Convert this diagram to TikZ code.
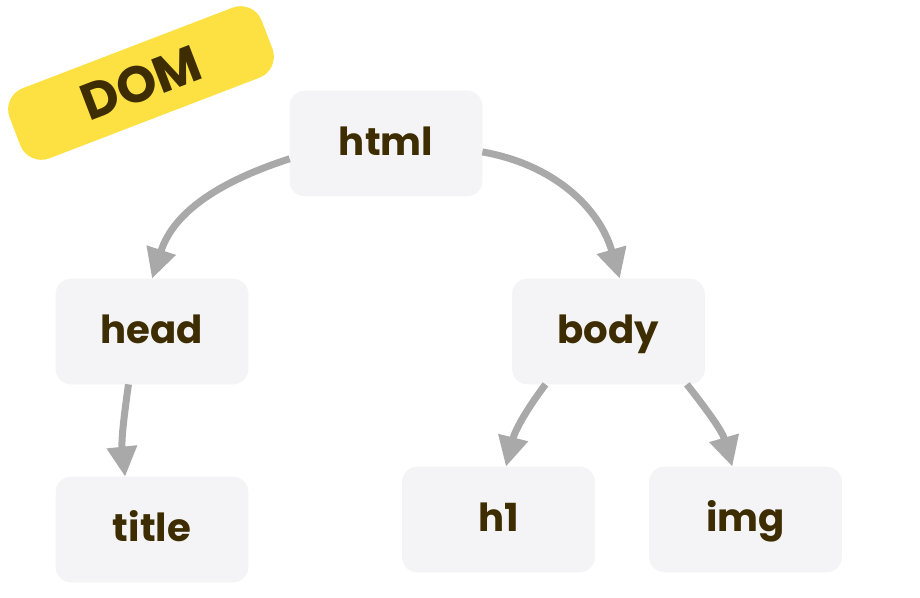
\documentclass[tikz,border=0pt]{standalone}
\usepackage{fontspec}
\setmainfont{Poppins}
\usepackage{tikz}
\usetikzlibrary{shapes,arrows.meta}
\definecolor{boxgray}{HTML}{F4F4F6}
\definecolor{inkbrown}{HTML}{3D2D00}
\definecolor{arrowgray}{HTML}{A9A9A9}
\definecolor{tagyellow}{HTML}{FDE143}
\tikzstyle{tag} = [draw, fill=boxgray, draw=boxgray, text=inkbrown, rounded corners=0.3cm,
    minimum width=3.84cm, minimum height=2.1cm, inner sep=0pt, text height=1.32em, text depth=0pt,
    font=\bfseries\fontsize{22}{24}\selectfont]
\tikzstyle{badge} = [fill=tagyellow, text=inkbrown, rounded corners=0.45cm,
    minimum width=5.4cm, minimum height=1.5cm, inner sep=0pt,
    font=\bfseries\fontsize{29}{32}\selectfont]
\tikzset{
  line/.style ={draw=arrowgray, line width=0.14cm, -{Triangle[length=0.6cm,width=0.58cm]}, shorten >=0pt}
}
\begin{document}
\begin{tikzpicture}[node distance = 3.76cm, auto]
   \useasboundingbox (0,0) rectangle (18.4,-11.96);
   \node [badge, rotate=21] (dom) at (2.82,-1.66) {DOM};
   \node [tag] (html) at (7.72,-2.87) {html};
   \node [tag,below of=html,xshift=-4.68cm] (head) {head};
   \node [tag,right of=head,node distance = 9.13cm] (body) {body};
   \node [tag,below of=head,node distance = 3.96cm] (title) {title};
   \node [tag,below of=body,xshift=-2.2cm,node distance = 3.76cm] (h1) {h1};
   \node [tag,right of=h1,node distance = 4.94cm] (img) {img};
   \path [line] (html.189) to[out=198,in=72] (head.north);
   \path [line] (html.355) to[out=-10,in=106] (body.78);
   \path [line] (head.246) to[out=-98,in=96] (title.117);
   \path [line] (body.220) to[out=233,in=76] (h1.82);
   \path [line] (body.326) to[out=-52,in=106] (img.104);
\end{tikzpicture}
\end{document}
